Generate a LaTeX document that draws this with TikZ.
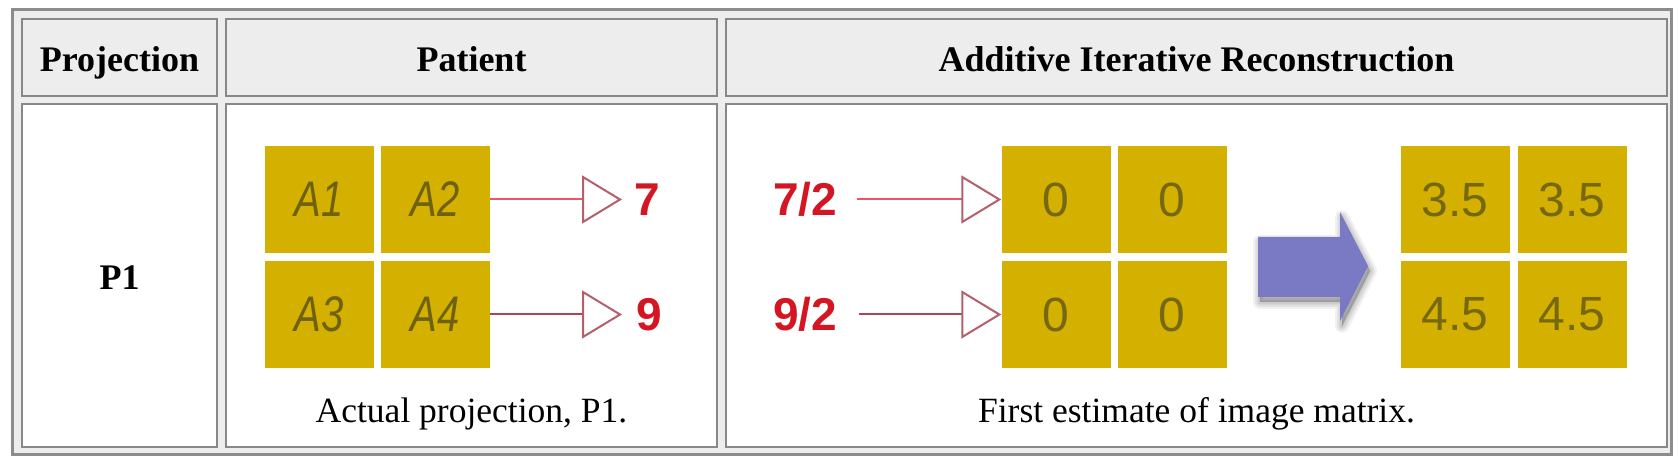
\documentclass[tikz,border=0pt]{standalone}
\usepackage{fontspec}
\setmainfont{Liberation Serif}
\newfontfamily\sansf{Liberation Sans}
\usetikzlibrary{arrows.meta}
\definecolor{tablebg}{RGB}{237,237,237}
\definecolor{cellborder}{RGB}{136,136,136}
\definecolor{outerborder}{RGB}{140,140,140}
\definecolor{sqfill}{RGB}{212,176,0}
\definecolor{sqtext}{RGB}{118,104,16}
\definecolor{redtext}{RGB}{212,22,34}
\definecolor{linetop}{RGB}{236,84,104}
\definecolor{linebot}{RGB}{168,72,84}
\definecolor{tricol}{RGB}{180,96,108}
\definecolor{bluearrow}{RGB}{122,122,196}
\begin{document}
\begin{tikzpicture}[x=1pt,y=-1pt,
  cellbox/.style={draw=cellborder,line width=2pt},
  headtext/.style={font=\fontsize{36}{40}\selectfont\bfseries,anchor=base,inner sep=0pt},
  captext/.style={font=\fontsize{35.5}{40}\selectfont,anchor=base,inner sep=0pt},
  sq/.style={fill=sqfill,minimum width=109pt,minimum height=107pt,inner sep=0pt,text=sqtext,font=\sansf\fontsize{48}{50}\selectfont},
  sqA/.style={sq,text={rgb,255:red,110;green,98;blue,18},font=\sansf\itshape\fontsize{50}{52}\selectfont},
  redlab/.style={text=redtext,font=\sansf\bfseries\fontsize{46}{50}\selectfont,inner sep=0pt},
  projline/.style={line width=2pt,-{Triangle[open,length=40pt,width=48pt,color=tricol,line width=2pt]}},
  arrowshadow/.style={fill=black!75,draw=black!75,opacity=0.07,line join=round},
]
\useasboundingbox (0,0) rectangle (1679,462);
\fill[white] (0,0) rectangle (1679,462);
\fill[tablebg] (12,10) rectangle (1671,454);
\draw[outerborder,line width=3pt] (12,10) rectangle (1671,454);

% header cells
\draw[cellbox,fill=tablebg] (22,19) rectangle (217,96);
\draw[cellbox,fill=tablebg] (226,19) rectangle (717,96);
\draw[cellbox,fill=tablebg] (726,19) rectangle (1667,96);
% body cells
\draw[cellbox,fill=white] (22,104) rectangle (217,447);
\draw[cellbox,fill=white] (226,104) rectangle (717,447);
\draw[cellbox,fill=white] (726,104) rectangle (1667,447);

\node[headtext] (hproj) at (119.5,72) {Projection};
\node[headtext] (hpat) at (471.5,72) {Patient};
\node[headtext] (hair) at (1196.5,72) {Additive Iterative Reconstruction};
\node[headtext] (p1) at (119.5,290) {P1};
\node[captext] (cap1) at (471.5,422) {Actual projection, P1.};
\node[captext] (cap2) at (1196.5,422) {First estimate of image matrix.};

% patient matrix
\node[sqA] (a1) at (319,199.5) {\scalebox{0.8}[1]{A1}};
\node[sqA] (a2) at (435,199.5) {\scalebox{0.8}[1]{A2}};
\node[sqA] (a3) at (319,314.5) {\scalebox{0.8}[1]{A3}};
\node[sqA] (a4) at (435,314.5) {\scalebox{0.8}[1]{A4}};
\node[redlab] (r7) at (647,199.5) {7};
\node[redlab] (r9) at (649,314.5) {9};
\draw[projline,linetop] (a2.east) -- ([xshift=-12pt]r7.west);
\draw[projline,linebot] (a4.east) -- ([xshift=-14pt]r9.west);

% first estimate
\node[redlab] (h72) at (805,199.5) {7/2};
\node[redlab] (h92) at (805,314.5) {9/2};
\node[sq] (z1) at (1056,199.5) {0};
\node[sq] (z2) at (1172,199.5) {0};
\node[sq] (z3) at (1056,314.5) {0};
\node[sq] (z4) at (1172,314.5) {0};
\draw[projline,linetop] ([xshift=20pt]h72.east) -- (z1.west);
\draw[projline,linebot] ([xshift=22pt]h92.east) -- (z3.west);

% big arrow: soft shadow then body
\foreach \w in {14,10,7,4,1} {
  \filldraw[arrowshadow,line width=\w pt,shift={(2,5)}]
    (1258,237) -- (1340,237) -- (1340,212) -- (1368,266) -- (1340,321) -- (1340,297) -- (1258,297) -- cycle;
}
\fill[bluearrow]
  (1258,237) -- (1340,237) -- (1340,212) -- (1368,266) -- (1340,321) -- (1340,297) -- (1258,297) -- cycle;

% result matrix
\node[sq] (e1) at (1455,199.5) {3.5};
\node[sq] (e2) at (1572,199.5) {3.5};
\node[sq] (e3) at (1455,314.5) {4.5};
\node[sq] (e4) at (1572,314.5) {4.5};
\end{tikzpicture}
\end{document}
